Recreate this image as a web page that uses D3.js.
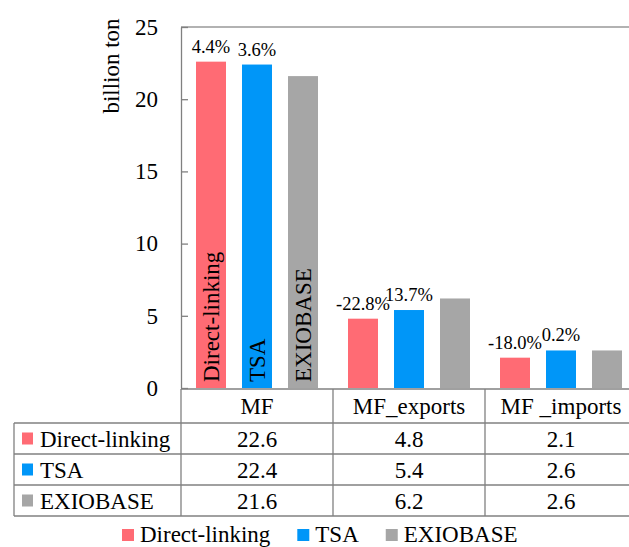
<!DOCTYPE html>
<html>
<head>
<meta charset="utf-8">
<script src="https://cdn.jsdelivr.net/npm/d3@7/dist/d3.min.js"></script>
<style>
  html, body { margin: 0; padding: 0; background: #fff; }
  svg { display: block; }
</style>
</head>
<body>
<svg id="chart" width="629" height="547"></svg>
<script>
// Material flow totals (billion ton) by indicator and method
const categories = ["MF", "MF_exports", "MF _imports"];
const series = ["Direct-linking", "TSA", "EXIOBASE"];
const directLinking = [22.6, 4.8, 2.1];
const tsa = [22.4, 5.4, 2.6];
const exiobase = [21.6, 6.2, 2.6];
// Relative differences against EXIOBASE shown above the bars
const directLinkingDiff = ["4.4%", "-22.8%", "-18.0%"];
const tsaDiff = ["3.6%", "13.7%", "0.2%"];
const yTicks = [0, 5, 10, 15, 20, 25];
const colors = ["#FF6B74", "#0096F8", "#A6A6A6"];

const values = [directLinking, tsa, exiobase];
const diffs = [directLinkingDiff, tsaDiff, null];

const FONT = "'Liberation Serif', 'Times New Roman', serif";
const svg = d3.select("#chart");
const lineColor = "#808080";

// helper: every label uses the same serif face
function label(sel) {
  return sel.append("text").style("font-family", FONT).attr("fill", "#000");
}

const plot = { left: 181, right: 637, top: 27, bottom: 388 };

const y = d3.scaleLinear().domain([0, 25]).range([plot.bottom, plot.top]);
const x = d3.scaleBand().domain(categories).range([plot.left, plot.right]);
const xInner = d3.scaleBand().domain(series)
  .range([15, x.bandwidth() - 15]).paddingInner(0.348).paddingOuter(0);

// top frame line
svg.append("line")
  .attr("x1", plot.left).attr("x2", plot.right)
  .attr("y1", plot.top).attr("y2", plot.top)
  .attr("stroke", "#999").attr("stroke-width", 1.5);

// y axis
const yAxis = svg.append("g")
  .attr("transform", `translate(${plot.left},0)`)
  .call(d3.axisLeft(y).tickValues(yTicks).tickSizeInner(-7).tickSizeOuter(0).tickPadding(23));
yAxis.select(".domain").attr("stroke", lineColor).attr("stroke-width", 1.3);
yAxis.selectAll(".tick line").attr("stroke", lineColor).attr("stroke-width", 1.3);
yAxis.selectAll(".tick text")
  .attr("font-size", 23).attr("fill", "#000")
  .style("font-family", FONT);

// y axis title
label(svg)
  .attr("transform", "translate(119,66) rotate(-90)")
  .attr("text-anchor", "middle")
  .attr("font-size", 23)
  .text("billion ton");

// bars
const groups = svg.selectAll("g.cat")
  .data(categories)
  .join("g")
  .attr("class", "cat")
  .attr("transform", d => `translate(${x(d)},0)`);

series.forEach((s, si) => {
  groups.append("rect")
    .attr("x", xInner(s))
    .attr("width", xInner.bandwidth())
    .attr("y", (d, ci) => y(values[si][ci]))
    .attr("height", (d, ci) => y(0) - y(values[si][ci]))
    .attr("fill", colors[si]);

  if (diffs[si]) {
    groups.append("text")
      .style("font-family", FONT)
      .attr("x", xInner(s) + xInner.bandwidth() / 2)
      .attr("y", (d, ci) => y(values[si][ci]) - 9)
      .attr("text-anchor", "middle")
      .attr("font-size", 18.5)
      .text((d, ci) => diffs[si][ci]);
  }
});

// series names written inside the first group's bars
series.forEach((s, si) => {
  const cx = x(categories[0]) + xInner(s) + xInner.bandwidth() / 2;
  label(svg)
    .attr("transform", `translate(${cx + 8},${y(0) - 6}) rotate(-90)`)
    .attr("text-anchor", "start")
    .attr("font-size", 23)
    .text(s);
});

// data table under the axis
const table = { left: 14, headerTop: plot.bottom + 1, headerBottom: 423, rowH: 31 };
const rowTops = series.map((s, i) => table.headerBottom + i * table.rowH);
const tableBottom = table.headerBottom + series.length * table.rowH;

const tbl = svg.append("g").attr("stroke", lineColor).attr("stroke-width", 1.3);
// axis baseline / table top
tbl.append("line").attr("x1", plot.left).attr("x2", plot.right)
  .attr("y1", table.headerTop).attr("y2", table.headerTop);
// horizontal row lines
[table.headerBottom, ...rowTops.map(t => t + table.rowH)].forEach(yy => {
  tbl.append("line").attr("x1", table.left).attr("x2", plot.right)
    .attr("y1", yy).attr("y2", yy);
});
// vertical lines
tbl.append("line").attr("x1", table.left).attr("x2", table.left)
  .attr("y1", table.headerBottom).attr("y2", tableBottom);
categories.forEach(c => {
  tbl.append("line").attr("x1", x(c)).attr("x2", x(c))
    .attr("y1", table.headerTop).attr("y2", tableBottom);
});

// header labels
categories.forEach(c => {
  label(svg)
    .attr("x", x(c) + x.bandwidth() / 2)
    .attr("y", 414)
    .attr("text-anchor", "middle")
    .attr("font-size", 23)
    .text(c);
});

// row labels with color keys, and values
series.forEach((s, si) => {
  const top = rowTops[si];
  svg.append("rect")
    .attr("x", 22).attr("y", top + table.rowH / 2 - 6)
    .attr("width", 11).attr("height", 12)
    .attr("fill", colors[si]);
  label(svg)
    .attr("x", 40).attr("y", top + 24)
    .attr("font-size", 23)
    .text(s);
  categories.forEach((c, ci) => {
    label(svg)
      .attr("x", x(c) + x.bandwidth() / 2)
      .attr("y", top + 24)
      .attr("text-anchor", "middle")
      .attr("font-size", 23)
      .text(values[si][ci].toFixed(1));
  });
});

// legend
let lx = 122;
const ly = 542;
series.forEach((s, si) => {
  svg.append("rect")
    .attr("x", lx).attr("y", ly - 13)
    .attr("width", 12).attr("height", 12)
    .attr("fill", colors[si]);
  const t = label(svg)
    .attr("x", lx + 18).attr("y", ly)
    .attr("font-size", 23)
    .text(s);
  lx += 18 + t.node().getComputedTextLength() + 27;
});
</script>
</body>
</html>
